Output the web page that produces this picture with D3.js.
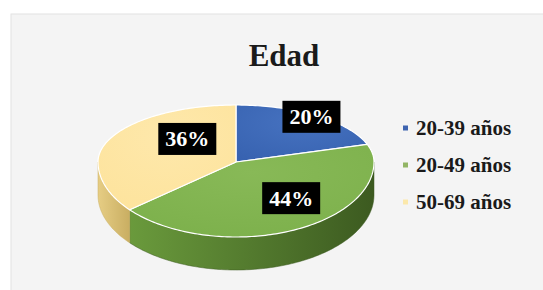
<!DOCTYPE html>
<html><head><meta charset="utf-8">
<script src="https://cdn.jsdelivr.net/npm/d3@7"></script>
<style>html,body{margin:0;padding:0;background:#fff;}svg{display:block;} text{font-family:"Liberation Serif","Times New Roman",serif;}</style>
</head><body>
<script>
const title = "Edad";
const categories = ["20-39 años", "20-49 años", "50-69 años"];
const values = [20, 44, 36];
const labels = ["20%", "44%", "36%"];

const topColors = ["#3762b0", "#7cb04b", "#fde39c"];
const topColorsLight = ["#4672c0", "#88b957", "#fee8ab"];
const sideColors = [["#2f5294", "#223d70"], ["#6a9a3c", "#3c5a20"], ["#e6cd84", "#c9ae62"]];
const legendColors = ["#3e64b0", "#92b565", "#fbe8ab"];
// label placement factors (fraction of radius in x / y) like Excel best-fit
const labelFactors = [[0.93, 0.98], [0.83, 0.55], [0.39, 0.95]];

const W = 543, H = 290;
const FONT = "'Liberation Serif', 'Times New Roman', serif";
const svg = d3.select("body").append("svg").attr("width", W).attr("height", H);
svg.append("rect").attr("x", 11).attr("y", 14).attr("width", W).attr("height", H).attr("fill", "#f4f4f4").attr("stroke", "#e2e2e2");

svg.append("text").attr("x", 284).attr("y", 66).attr("text-anchor", "middle")
  .style("font-family", FONT).attr("font-weight", "bold")
  .attr("font-size", 31).attr("fill", "#1a1a1a").text(title);

const cx = 236, cy = 162, rx = 138, ryBack = 57, ryFront = 75, depth = 33;
function proj(t, f = 1) {
  const s = Math.sin(t), c = Math.cos(t);
  const ry = c > 0 ? ryBack : ryFront;
  return [cx + rx * f * s, cy - ry * f * c];
}

const pie = d3.pie().sort(null).value(d => d);
const arcs = pie(values);

const defs = svg.append("defs");
arcs.forEach((a, i) => {
  const g = defs.append("linearGradient").attr("id", "side" + i).attr("x1", "0").attr("x2", "1").attr("y1", "0").attr("y2", "0");
  g.append("stop").attr("offset", "0%").attr("stop-color", sideColors[i][0]);
  g.append("stop").attr("offset", "100%").attr("stop-color", sideColors[i][1]);
  const t = defs.append("radialGradient").attr("id", "top" + i).attr("cx", "50%").attr("cy", "30%").attr("r", "80%");
  t.append("stop").attr("offset", "0%").attr("stop-color", topColorsLight[i]);
  t.append("stop").attr("offset", "100%").attr("stop-color", topColors[i]);
});

function arcPts(a0, a1, f = 1, dy = 0) {
  const n = Math.max(2, Math.ceil((a1 - a0) / 0.02));
  const pts = [];
  for (let k = 0; k <= n; k++) {
    const p = proj(a0 + (a1 - a0) * k / n, f);
    pts.push([p[0], p[1] + dy]);
  }
  return pts;
}

// sides
const sideG = svg.append("g");
arcs.forEach((a, i) => {
  const s = Math.max(a.startAngle, Math.PI / 2), e = Math.min(a.endAngle, 3 * Math.PI / 2);
  if (e <= s) return;
  const topE = arcPts(s, e);
  const botE = arcPts(s, e, 1, depth).reverse();
  const pts = topE.concat(botE);
  sideG.append("path").attr("d", "M" + pts.map(p => p.join(",")).join("L") + "Z")
    .attr("fill", "url(#side" + i + ")").attr("stroke", sideColors[i][1]).attr("stroke-width", 0.5);
});

// top faces
const topG = svg.append("g");
arcs.forEach((a, i) => {
  const pts = [[cx, cy]].concat(arcPts(a.startAngle, a.endAngle));
  topG.append("path").attr("d", "M" + pts.map(p => p.join(",")).join("L") + "Z")
    .attr("fill", "url(#top" + i + ")").attr("stroke", "#ffffff").attr("stroke-width", 1.2).attr("stroke-linejoin", "round");
});

// labels
const labG = svg.append("g");
arcs.forEach((a, i) => {
  const m = (a.startAngle + a.endAngle) / 2;
  const s = Math.sin(m), c = Math.cos(m);
  const ry = c > 0 ? ryBack : ryFront;
  const x = cx + rx * labelFactors[i][0] * s, y = cy - ry * labelFactors[i][1] * c;
  labG.append("rect").attr("x", x - 29).attr("y", y - 16).attr("width", 58).attr("height", 32).attr("fill", "#000");
  labG.append("text").attr("x", x).attr("y", y + 7.5).attr("text-anchor", "middle")
    .style("font-family", FONT).attr("font-weight", "bold")
    .attr("font-size", 22).attr("fill", "#fff").text(labels[i]);
});

// legend
const leg = svg.append("g");
const ly = d3.scalePoint().domain(categories).range([128, 202]);
categories.forEach((c, i) => {
  leg.append("rect").attr("x", 403).attr("y", ly(c) - 2.5).attr("width", 5).attr("height", 5).attr("fill", legendColors[i]);
  leg.append("text").attr("x", 416).attr("y", ly(c) + 7).style("font-family", FONT)
    .attr("font-weight", "bold").attr("font-size", 21).attr("fill", "#1a1a1a").text(c);
});
</script>
</body></html>
